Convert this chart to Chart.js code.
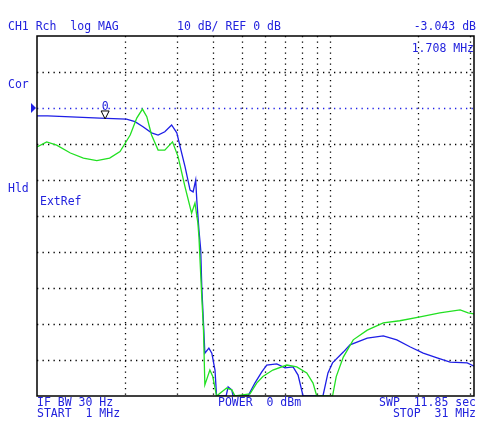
<!DOCTYPE html>
<html><head><meta charset="utf-8">
<script src="https://cdn.jsdelivr.net/npm/chart.js@4"></script>
<style>html,body{margin:0;padding:0;background:#fff}#c{display:block}</style>
</head><body>
<canvas id="c" width="482" height="427"></canvas>
<script>
const blueFreq=[1.00,1.088,1.64,2.02,2.16,2.30,2.46,2.59,2.73,2.88,3.00,3.08,3.20,3.33,3.41,3.48,3.51,3.57,3.62,3.65,3.70,3.74,3.86,3.95,4.05,4.10,4.42,4.49,4.62,4.67,5.25,5.54,5.85,6.08,6.58,7.02,7.48,7.78,8.09,9.46,9.84,10.2,11.1,11.7,13.4,15.2,16.9,18.8,20.8,23.2,25.7,29.4,31];
const blueDb=[-2.2,-2.2,-2.8,-3.1,-3.8,-5.2,-6.9,-7.5,-6.6,-4.7,-6.9,-10.8,-16.3,-22.8,-23.3,-20,-25.6,-33.9,-39.4,-49.6,-59.7,-68.1,-66.7,-68.1,-72.8,-80,-80,-77.5,-78.3,-80,-80,-76.4,-73.3,-71.4,-71.1,-72.2,-71.9,-74.2,-80,-80,-73.6,-70.8,-67.8,-65.8,-63.9,-63.3,-64.4,-66.4,-68.1,-69.4,-70.6,-70.8,-71.7];
const greenFreq=[1.00,1.079,1.167,1.30,1.44,1.60,1.77,1.92,2.08,2.19,2.29,2.37,2.46,2.59,2.73,2.90,3.03,3.20,3.37,3.46,3.54,3.57,3.65,3.70,3.74,3.89,3.98,4.10,4.44,4.62,4.74,5.33,5.62,5.90,6.38,7.12,7.70,8.33,8.75,9.01,10.2,10.5,11.1,12.0,13.4,15.2,17.3,20.3,23.7,27.8,29.6,31];
const greenDb=[-10.8,-9.4,-10.3,-12.5,-13.9,-14.6,-13.9,-12.1,-7.5,-2.8,-0.3,-2.4,-7.5,-11.7,-11.7,-9.4,-13.5,-21.9,-29.2,-26.4,-31.9,-35.8,-52.4,-61.7,-76.9,-72.8,-74.6,-80,-77.8,-78.3,-80,-79.4,-76.4,-74.6,-72.8,-71.4,-71.9,-73.6,-76.4,-80,-80,-74.6,-69.2,-64.4,-61.7,-59.7,-59.1,-58,-56.9,-56.1,-56.9,-57.2];
const xGridTicks=[2,3,4,5,6,7,8,9,10,20,30];
const yGridTicks=[10,0,-10,-20,-30,-40,-50,-60,-70];
const refLevel=0;
const markerFreq=1.708, markerDb=-3.043;

const BLUE='#1e1ee6', TXT='#2222dd', GREEN='#22e022';
const FONT='11.5px "DejaVu Sans Mono", monospace';

const deco={
  id:'deco',
  beforeDatasetsDraw(ch){
    const {ctx,chartArea:a,scales:{x,y}}=ch;
    ctx.save();
    ctx.lineWidth=1.3;ctx.setLineDash([1.3,4.2]);
    xGridTicks.forEach(v=>{const px=Math.round(x.getPixelForValue(v))+0.5;ctx.strokeStyle='#000';ctx.beginPath();ctx.moveTo(px,a.top);ctx.lineTo(px,a.bottom);ctx.stroke();});
    yGridTicks.forEach(v=>{const py=Math.round(y.getPixelForValue(v))+0.5;ctx.strokeStyle=v===refLevel?BLUE:'#000';ctx.beginPath();ctx.moveTo(a.left,py);ctx.lineTo(a.right,py);ctx.stroke();});
    ctx.restore();
  },
  afterDatasetsDraw(ch){
    const {ctx,chartArea:a,scales:{x,y}}=ch;
    ctx.save();
    ctx.strokeStyle='#000';ctx.lineWidth=1.5;ctx.setLineDash([]);
    ctx.strokeRect(a.left,a.top,a.right-a.left,a.bottom-a.top);
    const ry=y.getPixelForValue(refLevel);
    ctx.fillStyle=BLUE;ctx.beginPath();ctx.moveTo(31,ry-5);ctx.lineTo(36,ry);ctx.lineTo(31,ry+5);ctx.closePath();ctx.fill();
    const mx=x.getPixelForValue(markerFreq), my=y.getPixelForValue(markerDb);
    ctx.strokeStyle='#000';ctx.lineWidth=1;ctx.fillStyle='#fff';
    ctx.beginPath();ctx.moveTo(mx-4,my-8);ctx.lineTo(mx+4,my-8);ctx.lineTo(mx,my);ctx.closePath();ctx.fill();ctx.stroke();
    ctx.font=FONT;ctx.fillStyle=TXT;ctx.textAlign='center';ctx.textBaseline='alphabetic';
    ctx.fillText('0',mx,my-9);
    ctx.textAlign='left';
    ctx.fillText('CH1 Rch  log MAG',8,30);
    ctx.fillText('10 dB/ REF 0 dB',177,30);
    ctx.fillText('Cor',8,88);
    ctx.fillText('Hld',8,192);
    ctx.fillText('ExtRef',40,205);
    ctx.fillText('IF BW 30 Hz',37,406);
    ctx.fillText('START  1 MHz',37,417);
    ctx.fillText('POWER  0 dBm',218,406);
    ctx.textAlign='right';
    ctx.fillText('-3.043 dB',476,30);
    ctx.fillText('1.708 MHz',474,52);
    ctx.fillText('SWP  11.85 sec',476,406);
    ctx.fillText('STOP  31 MHz',476,417);
    ctx.restore();
  }
};

new Chart(document.getElementById('c'),{
  type:'line',
  data:{datasets:[
    {data:greenFreq.map((f,i)=>({x:f,y:greenDb[i]})),borderColor:GREEN,borderWidth:1.3,pointRadius:0,tension:0},
    {data:blueFreq.map((f,i)=>({x:f,y:blueDb[i]})),borderColor:BLUE,borderWidth:1.3,pointRadius:0,tension:0}
  ]},
  options:{
    responsive:false,animation:false,
    layout:{padding:{left:37,top:36,right:8,bottom:31}},
    plugins:{legend:{display:false},tooltip:{enabled:false}},
    scales:{
      x:{type:'logarithmic',min:1,max:31,display:false},
      y:{type:'linear',min:-80,max:20,display:false}
    }
  },
  plugins:[deco]
});
</script>
</body></html>
